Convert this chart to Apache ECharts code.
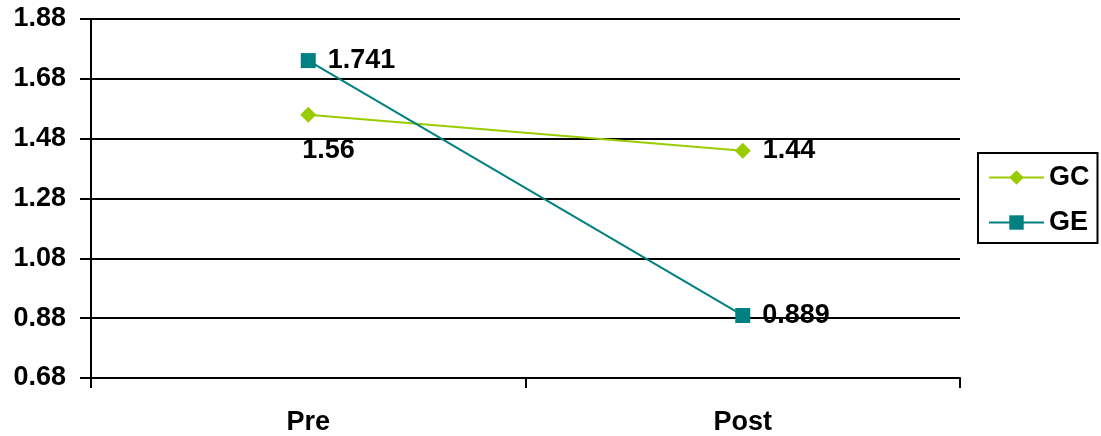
<!DOCTYPE html>
<html>
<head>
<meta charset="utf-8">
<script src="https://cdn.jsdelivr.net/npm/echarts@6/dist/echarts.min.js"></script>
<style>
  html, body { margin: 0; padding: 0; background: #fff; }
  #chart { width: 1101px; height: 436px; }
</style>
</head>
<body>
<div id="chart"></div>
<script>
// Pre / Post scores for the two groups
const categories = ['Pre', 'Post'];
const gcValues = [1.56, 1.44];
const geValues = [1.741, 0.889];
const yMin = 0.68;
const yMax = 1.88;
const yStep = 0.2;

const FONT = 'Arial, "Liberation Sans", sans-serif';
const labelStyle = {
  show: true,
  position: 'right',
  distance: 12,
  color: '#000',
  fontFamily: FONT,
  fontWeight: 'bold',
  fontSize: 27,
  formatter: p => String(p.value)
};

const chart = echarts.init(document.getElementById('chart'), null, { renderer: 'canvas' });
chart.setOption({
  animation: false,
  backgroundColor: '#fff',
  grid: { left: 91, right: 141, top: 19, bottom: 58 },
  xAxis: {
    type: 'category',
    data: categories,
    boundaryGap: true,
    axisLine: { lineStyle: { color: '#000', width: 2 } },
    axisTick: { show: true, length: 10, lineStyle: { color: '#000', width: 2 } },
    axisLabel: { color: '#000', fontFamily: FONT, fontWeight: 'bold', fontSize: 27, margin: 31 },
    splitLine: { show: false }
  },
  yAxis: {
    type: 'value',
    min: yMin,
    max: yMax,
    interval: yStep,
    axisLine: { show: true, lineStyle: { color: '#000', width: 2 } },
    axisTick: { show: true, length: 11, lineStyle: { color: '#000', width: 2 } },
    axisLabel: {
      color: '#000', fontFamily: FONT, fontWeight: 'bold', fontSize: 27, margin: 25,
      formatter: v => v.toFixed(2)
    },
    splitLine: { show: true, lineStyle: { color: '#000', width: 2 } }
  },
  legend: {
    orient: 'vertical',
    left: 978,
    top: 153,
    padding: [11, 8, 7, 10],
    borderColor: '#000',
    borderWidth: 2,
    itemWidth: 55,
    itemHeight: 18,
    itemGap: 18,
    itemTextGap: 7,
    textStyle: { color: '#000', fontFamily: FONT, fontWeight: 'bold', fontSize: 27, lineHeight: 26 },
    data: ['GC', 'GE']
  },
  series: [
    {
      name: 'GC',
      type: 'line',
      data: [
        { value: gcValues[0], label: { offset: [-26, 36] } },
        gcValues[1]
      ],
      color: '#99CC00',
      lineStyle: { color: '#99CC00', width: 2 },
      itemStyle: { color: '#99CC00' },
      symbol: 'diamond',
      symbolSize: 16,
      label: labelStyle,
      z: 3
    },
    {
      name: 'GE',
      type: 'line',
      data: geValues,
      color: '#008080',
      lineStyle: { color: '#008080', width: 2 },
      itemStyle: { color: '#008080' },
      symbol: 'rect',
      symbolSize: 15,
      label: labelStyle,
      z: 4
    }
  ]
});
</script>
</body>
</html>
